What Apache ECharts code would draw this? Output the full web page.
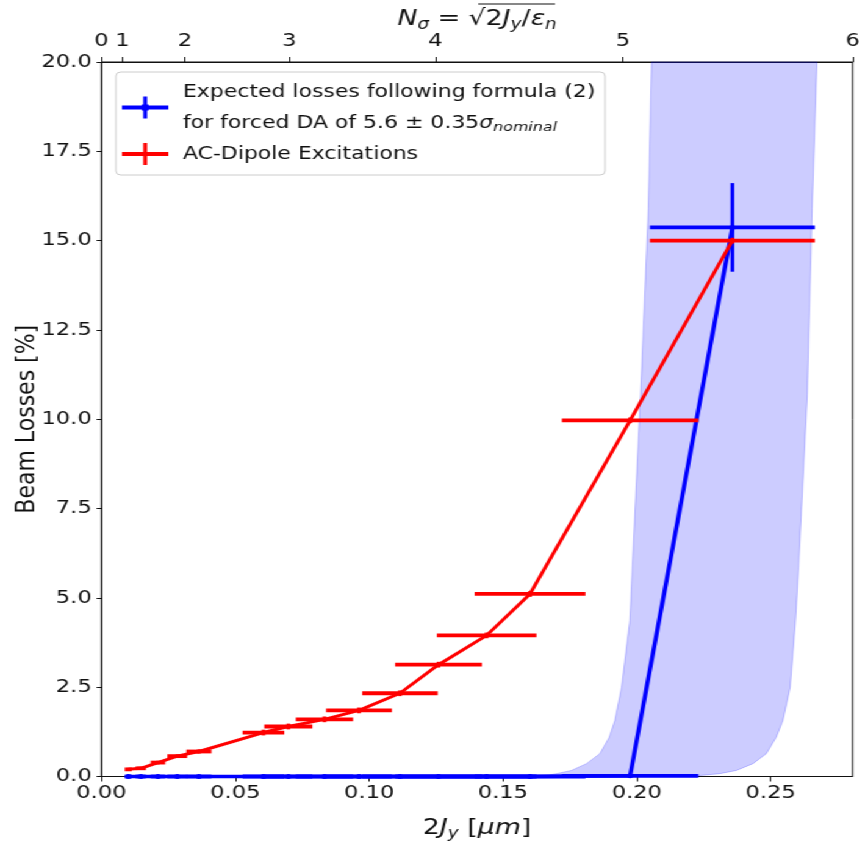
<!DOCTYPE html>
<html>
<head>
<meta charset="utf-8">
<script src="https://cdn.jsdelivr.net/npm/echarts@6/dist/echarts.min.js"></script>
<style>
html,body{margin:0;padding:0;background:#fff;}
#wrap{width:863px;height:846px;overflow:hidden;position:relative;}
#main{height:846px;transform-origin:0 0;}
</style>
</head>
<body>
<div id="wrap"><div id="main"></div></div>
<script>
// ---- data ----
const xVals = [0.0100, 0.0147, 0.0211, 0.0283, 0.0364, 0.0605, 0.0698, 0.0833, 0.0962, 0.1115, 0.1259, 0.1439, 0.1601, 0.1975, 0.2357];
const xErr  = [0.0013, 0.0019, 0.0027, 0.0037, 0.0047, 0.0078, 0.0090, 0.0107, 0.0123, 0.0141, 0.0162, 0.0186, 0.0207, 0.0255, 0.0308];
const redLoss    = [0.20, 0.23, 0.39, 0.57, 0.70, 1.23, 1.40, 1.60, 1.85, 2.33, 3.13, 3.95, 5.11, 9.97, 15.0];
const redLossErr = [0.04, 0.04, 0.05, 0.05, 0.06, 0.08, 0.08, 0.08, 0.08, 0.08, 0.08, 0.08, 0.08, 0.08, 0.08];
const blueLoss    = [0, 0, 0, 0, 0, 0, 0, 0, 0, 0, 0, 0, 0, 0.02, 15.37];
const blueLossErr = [0, 0, 0, 0, 0, 0, 0, 0, 0, 0, 0, 0, 0, 0, 1.24];
// band (forced DA 5.6 +/- 0.35 sigma): left (upper) edge and right (lower) edge
const bandLeftX  = [0.150, 0.160, 0.167, 0.1700, 0.1756, 0.1812, 0.1862, 0.1897, 0.1918, 0.1943, 0.1974, 0.1981, 0.2014, 0.2043, 0.2055];
const bandLeftY  = [0.00, 0.01, 0.04, 0.08, 0.17, 0.36, 0.64, 1.10, 1.57, 2.50, 4.37, 5.50, 10.7, 15.9, 20.0];
const bandRightX = [0.205, 0.215, 0.2237, 0.2310, 0.2372, 0.2434, 0.2484, 0.2521, 0.2546, 0.2573, 0.2593, 0.2602, 0.2637, 0.2655, 0.2673];
const bandRightY = [0.00, 0.01, 0.03, 0.08, 0.17, 0.36, 0.64, 1.10, 1.57, 2.50, 4.37, 5.50, 10.7, 15.9, 20.0];
const bottomTicks = [0.00, 0.05, 0.10, 0.15, 0.20, 0.25];
const topTickLabels = [0, 1, 2, 3, 4, 5, 6];
const yTicks = [0, 2.5, 5, 7.5, 10, 12.5, 15, 17.5, 20];

const XMAX = 0.2806;
const EPS = XMAX / 36;  // top axis: N_sigma = sqrt(2Jy / eps_n)
const S = 1.22;         // horizontal stretch of the reference picture
const W = 863 / S;

const el = document.getElementById('main');
el.style.width = W + 'px';
el.style.transform = 'scaleX(' + S + ')';

const FONT = 'DejaVu Sans';
const topValues = topTickLabels.map(n => n * n * EPS);

function errRender(color) {
  return function (params, api) {
    const x = api.value(0), y = api.value(1), xe = api.value(2), ye = api.value(3);
    const a = api.coord([x - xe, y]), b = api.coord([x + xe, y]);
    const children = [{type: 'line', shape: {x1: a[0], y1: a[1], x2: b[0], y2: b[1]},
      style: {stroke: color, lineWidth: 3.8}}];
    if (ye > 0) {
      const c = api.coord([x, y - ye]), d = api.coord([x, y + ye]);
      children.push({type: 'line', shape: {x1: c[0], y1: c[1], x2: d[0], y2: d[1]},
        style: {stroke: color, lineWidth: 3.1}});
    }
    return {type: 'group', children: children};
  };
}

const blueName = 'Expected losses following formula (2) for forced DA of 5.6 ± 0.35σnominal';
const redName = 'AC-Dipole Excitations';

const chart = echarts.init(el, null, {renderer: 'canvas'});
chart.setOption({
  animation: false,
  textStyle: {fontFamily: FONT},
  grid: {left: 101.5 / S, right: 10 / S, top: 62, bottom: 69.5, show: true,
    containLabel: false, outerBoundsMode: 'none',
    borderColor: '#111', borderWidth: 1, backgroundColor: 'transparent'},
  legend: {
    orient: 'vertical', left: 95, top: 72, itemGap: 0,
    padding: [4.5, 8, 5.5, 5],
    backgroundColor: 'rgba(255,255,255,0.85)', borderColor: '#cccccc', borderWidth: 1, borderRadius: 4,
    itemWidth: 38, itemHeight: 22,
    data: [
      {name: blueName, icon: 'path://M0,9 L38,9 L38,13 L0,13 Z M17.4,0 L20.6,0 L20.6,22 L17.4,22 Z M16.2,8 L21.8,8 L21.8,14 L16.2,14 Z', itemStyle: {color: '#0000ff'}},
      {name: redName, icon: 'path://M0,9 L38,9 L38,13 L0,13 Z M17.4,0 L20.6,0 L20.6,22 L17.4,22 Z', itemStyle: {color: '#ff0000'}}
    ],
    textStyle: {fontSize: 18, color: '#111', fontFamily: FONT, lineHeight: 31, padding: [0, 0, 0, 7],
      rich: {
        t: {fontSize: 18, lineHeight: 31, fontFamily: FONT, color: '#111'},
        it: {fontSize: 18, lineHeight: 31, fontStyle: 'italic', fontFamily: FONT, color: '#111'},
        sub: {fontSize: 13, lineHeight: 31, fontStyle: 'italic', fontFamily: FONT, color: '#111', padding: [10, 0, 0, 0]}
      }},
    formatter: function (name) {
      if (name === blueName) {
        return '{t|Expected losses following formula (2)}\n{t|for forced DA of 5.6 ± 0.35}{it|σ}{sub|nominal}';
      }
      return '{t|' + name + '}';
    }
  },
  xAxis: [
    {
      type: 'value', position: 'bottom', min: 0, max: XMAX, interval: 0.05,
      axisLine: {show: true, onZero: false, lineStyle: {color: '#111', width: 1}},
      axisTick: {show: true, length: 5, lineStyle: {color: '#111'}},
      axisLabel: {fontSize: 18.5, color: '#111', margin: 7, showMaxLabel: false, hideOverlap: false,
        formatter: v => {
          const t = bottomTicks.find(b => Math.abs(b - v) < 1e-6);
          return t === undefined ? '' : t.toFixed(2);
        }},
      splitLine: {show: false},
      name: '{n|2}{i|J}{s|y}{n| [}{i|μm}{n|]}',
      nameLocation: 'middle', nameGap: 38, nameMoveOverlap: false,
      nameTextStyle: {fontSize: 22, color: '#111', rich: {
        n: {fontSize: 22, fontFamily: FONT, color: '#111'},
        i: {fontSize: 22, fontFamily: FONT, fontStyle: 'italic', color: '#111'},
        s: {fontSize: 15, fontFamily: FONT, fontStyle: 'italic', color: '#111', padding: [12, 0, 0, 0]}
      }}
    },
    {
      type: 'value', position: 'top', min: 0, max: XMAX,
      axisLine: {show: true, onZero: false, lineStyle: {color: '#111', width: 1}},
      axisTick: {show: true, length: 5, customValues: topValues, lineStyle: {color: '#111'}},
      axisLabel: {fontSize: 18.5, color: '#111', margin: 11, customValues: topValues, hideOverlap: false,
        formatter: v => String(topTickLabels[topValues.findIndex(t => Math.abs(t - v) < 1e-9)])},
      splitLine: {show: false},
      name: '{i|N}{si|σ}{n| = √}{n|2}{i|J}{s|y}{n|/}{i|ε}{s|n}',
      nameLocation: 'middle', nameGap: 29, nameMoveOverlap: false,
      nameTextStyle: {fontSize: 22, color: '#111', rich: {
        n: {fontSize: 22, fontFamily: FONT, color: '#111'},
        i: {fontSize: 22, fontFamily: FONT, fontStyle: 'italic', color: '#111'},
        si: {fontSize: 15, fontFamily: FONT, fontStyle: 'italic', color: '#111', padding: [12, 0, 0, 0]},
        s: {fontSize: 15, fontFamily: FONT, fontStyle: 'italic', color: '#111', padding: [12, 0, 0, 0]}
      }}
    }
  ],
  yAxis: {
    type: 'value', min: 0, max: 20, interval: 2.5,
    axisLine: {show: true, onZero: false, lineStyle: {color: '#111', width: 1}},
    axisTick: {show: true, length: 4, lineStyle: {color: '#111'}},
    axisLabel: {fontSize: 18.5, color: '#111', margin: 8,
      formatter: v => {
        const t = yTicks.find(b => Math.abs(b - v) < 1e-6);
        return t === undefined ? '' : t.toFixed(1);
      }},
    splitLine: {show: false},
    name: 'Beam Losses [%]', nameLocation: 'middle', nameGap: 50, nameMoveOverlap: false,
    nameTextStyle: {fontSize: 22, color: '#111', fontFamily: FONT}
  },
  series: [
    {
      type: 'custom', name: 'band', silent: true, z: 1, xAxisIndex: 0, clip: false,
      data: [[0, 0]],
      renderItem: function (params, api) {
        const pts = [];
        for (let i = 0; i < bandLeftX.length; i++) pts.push(api.coord([bandLeftX[i], bandLeftY[i]]));
        for (let i = bandRightX.length - 1; i >= 0; i--) pts.push(api.coord([bandRightX[i], bandRightY[i]]));
        return {type: 'polygon', shape: {points: pts},
          style: {fill: 'rgba(0,0,255,0.2)', stroke: 'rgba(0,0,255,0.22)', lineWidth: 1}};
      }
    },
    {
      type: 'line', name: blueName, xAxisIndex: 0, zlevel: 1, z: 3, clip: false,
      data: xVals.map((x, i) => [x, blueLoss[i]]),
      lineStyle: {color: '#0000ff', width: 3.5},
      itemStyle: {color: '#0000ff'},
      symbol: 'circle', symbolSize: 5, showSymbol: true
    },
    {
      type: 'custom', name: blueName, xAxisIndex: 0, zlevel: 1, z: 3, clip: false,
      data: xVals.map((x, i) => [x, blueLoss[i], xErr[i], blueLossErr[i]]),
      encode: {x: 0, y: 1},
      itemStyle: {color: '#0000ff'},
      renderItem: errRender('#0000ff')
    },
    {
      type: 'line', name: redName, xAxisIndex: 0, zlevel: 1, z: 4, clip: false,
      data: xVals.map((x, i) => [x, redLoss[i]]),
      lineStyle: {color: '#ff0000', width: 3},
      itemStyle: {color: '#ff0000'},
      symbol: 'none'
    },
    {
      type: 'custom', name: redName, xAxisIndex: 0, zlevel: 1, z: 4, clip: false,
      data: xVals.map((x, i) => [x, redLoss[i], xErr[i], redLossErr[i]]),
      encode: {x: 0, y: 1},
      itemStyle: {color: '#ff0000'},
      renderItem: errRender('#ff0000')
    }
  ],
  graphic: [
    {type: 'line', shape: {x1: 392, y1: 4, x2: 455, y2: 4}, style: {stroke: '#111', lineWidth: 1.2}, silent: true}
  ]
});
</script>
</body>
</html>
